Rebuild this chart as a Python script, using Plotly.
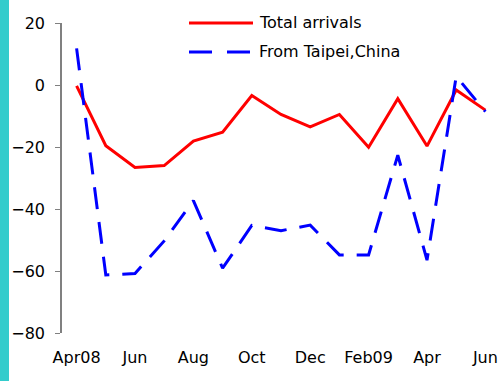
import plotly.graph_objects as go

months = ["Apr08", "May", "Jun", "Jul", "Aug", "Sep", "Oct", "Nov", "Dec",
          "Jan09", "Feb09", "Mar", "Apr", "May", "Jun"]
total_arrivals = [-0.3, -19.6, -26.6, -26.0, -18.1, -15.2, -3.4, -9.5, -13.5,
                  -9.5, -20.1, -4.4, -19.7, -1.6, -8.1]
from_taipei = [11.8, -61.3, -60.8, -50.3, -37.3, -59.1, -45.3, -47.0, -45.2,
               -54.8, -54.8, -22.6, -56.5, 2.8, -8.6]
tick_labels = ["Apr08", "Jun", "Aug", "Oct", "Dec", "Feb09", "Apr", "Jun"]

FONT = "DejaVu Sans"
x = list(range(len(months)))

fig = go.Figure()
fig.add_trace(go.Scatter(x=x, y=total_arrivals, mode="lines", name="Total arrivals",
                         line=dict(color="#FF0000", width=3)))
fig.add_trace(go.Scatter(x=x, y=from_taipei, mode="lines", name="From Taipei,China",
                         line=dict(color="#0000FF", width=3, dash="22px,13px")))

# plot area: x 62..500, y 23..333 px
W, H, L, T = 438, 310, 62, 23
px = lambda v: (v - L) / W
py = lambda v: (T + H - v) / H

shapes = [
    dict(type="rect", xref="paper", yref="paper", x0=px(0), x1=px(9), y0=py(381), y1=py(0),
         fillcolor="#33CCCC", line=dict(width=0), layer="below"),
    dict(type="line", xref="paper", yref="paper", x0=px(189), x1=px(253), y0=py(23), y1=py(23),
         line=dict(color="#FF0000", width=3)),
    dict(type="line", xref="paper", yref="paper", x0=px(189), x1=px(253), y0=py(52), y1=py(52),
         line=dict(color="#0000FF", width=3, dash="23px,15px")),
]
annotations = [
    dict(xref="paper", yref="paper", x=px(257), y=py(22), text="Total arrivals",
         showarrow=False, xanchor="left", yanchor="middle", font=dict(size=16, color="black")),
    dict(xref="paper", yref="paper", x=px(257), y=py(51), text="From Taipei,China",
         showarrow=False, xanchor="left", yanchor="middle", font=dict(size=16, color="black")),
]

n = len(months)
fig.update_layout(
    width=503, height=381,
    margin=dict(l=L, r=503 - L - W, t=T, b=381 - T - H, autoexpand=False),
    paper_bgcolor="white", plot_bgcolor="white",
    font=dict(family=FONT, size=16, color="black"),
    showlegend=False,
    shapes=shapes, annotations=annotations,
    xaxis=dict(range=[-0.5, n - 0.5], tickvals=x[::2], ticktext=tick_labels,
               showgrid=False, zeroline=False, showline=False, automargin=False,
               ticks="outside", ticklen=10, tickcolor="rgba(0,0,0,0)"),
    xaxis2=dict(range=[-0.5, n - 0.5], overlaying="x", anchor="free", position=0.8,
                side="bottom", showgrid=False, zeroline=False, showline=True,
                linecolor="#333333", linewidth=1.3, showticklabels=False, automargin=False,
                tickvals=[i - 0.5 for i in range(0, n - 1, 2)],
                ticks="outside", ticklen=5, tickcolor="#333333", tickwidth=1.3),
    yaxis=dict(range=[-80, 20], tickvals=[-80, -60, -40, -20, 0, 20],
               showgrid=False, zeroline=False, showline=True, automargin=False,
               linecolor="#808080", linewidth=1.5, ticklabelstandoff=7,
               ticks="outside", ticklen=5, tickcolor="#808080"),
)
# drop the page's default body margin so the figure sits at the window's corner
fig.write_html("out.html", config={"displayModeBar": False},
               post_script="document.body.style.margin='0';")
